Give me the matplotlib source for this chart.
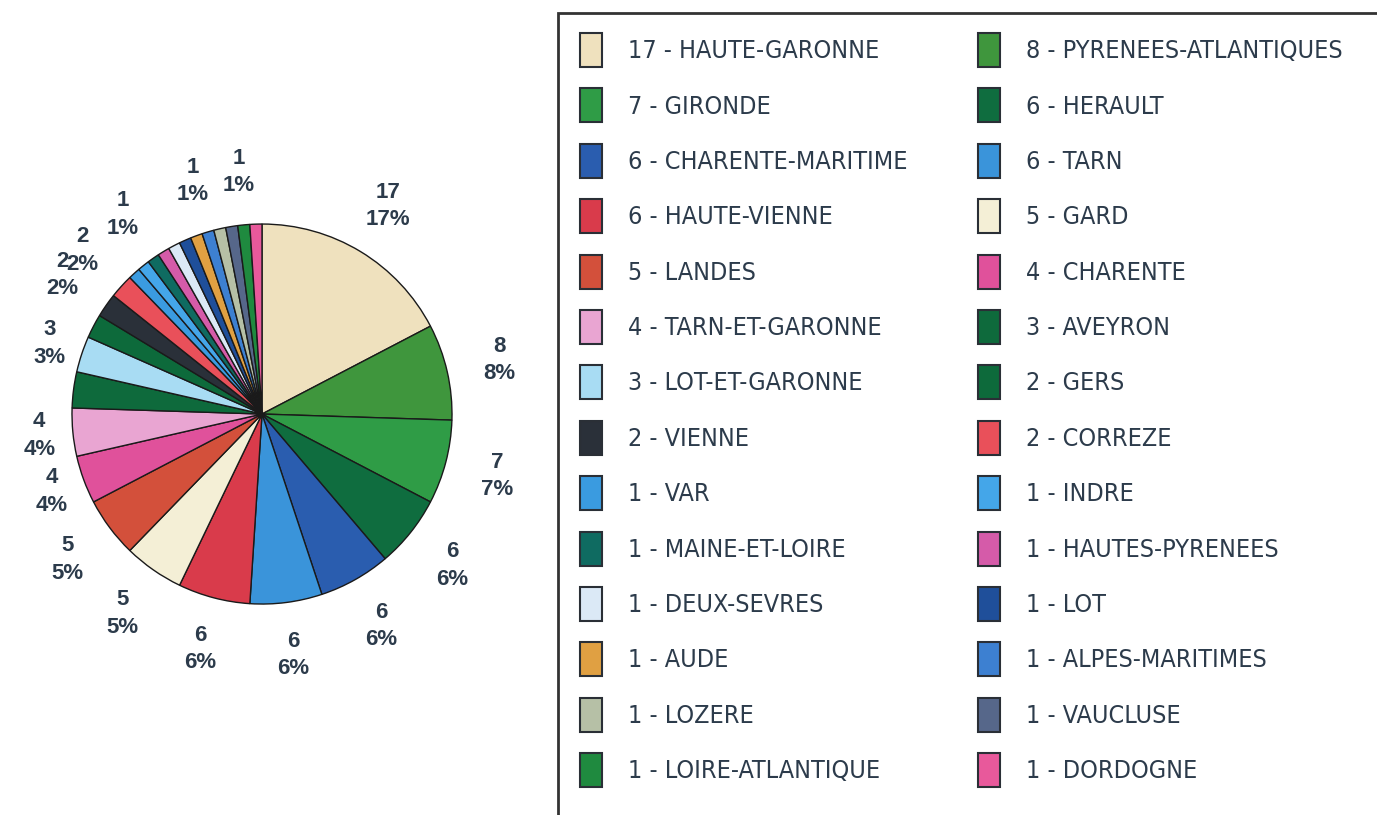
import matplotlib
matplotlib.use("Agg")
import matplotlib.pyplot as plt
from matplotlib.patches import Patch, Rectangle

# Departements, in the order of the pie (clockwise from 12 o'clock)
departements = [
    "HAUTE-GARONNE", "PYRENEES-ATLANTIQUES", "GIRONDE", "HERAULT",
    "CHARENTE-MARITIME", "TARN", "HAUTE-VIENNE", "GARD", "LANDES",
    "CHARENTE", "TARN-ET-GARONNE", "AVEYRON", "LOT-ET-GARONNE", "GERS",
    "VIENNE", "CORREZE", "VAR", "INDRE", "MAINE-ET-LOIRE",
    "HAUTES-PYRENEES", "DEUX-SEVRES", "LOT", "AUDE", "ALPES-MARITIMES",
    "LOZERE", "VAUCLUSE", "LOIRE-ATLANTIQUE", "DORDOGNE",
]
counts = [17, 8, 7, 6, 6, 6, 6, 5, 5, 4, 4, 3, 3, 2, 2, 2,
          1, 1, 1, 1, 1, 1, 1, 1, 1, 1, 1, 1]
colors = [
    "#efe1be", "#3f963d", "#2f9c46", "#0f6d3f", "#2a5daf", "#3a94da",
    "#d93b4b", "#f4efd6", "#d3503b", "#e0519b", "#e9a5d2", "#0e6a3c",
    "#a8dcf3", "#0d6a3b", "#2a3039", "#e9505a", "#3a9be0", "#44a6e9",
    "#0f6b61", "#d55ba9", "#dbe9f6", "#1f4f9a", "#e0a042", "#3d80d1",
    "#b6c0a6", "#56678a", "#1f8a3f", "#e8599b",
]
# slices whose value label is visible on the original chart
shown = [0, 1, 2, 3, 4, 5, 6, 7, 8, 9, 10, 12, 14, 15, 18, 23, 26]

total = sum(counts)
labels = []
for i, c in enumerate(counts):
    if i in shown:
        labels.append(f"{c}\n{round(c / total * 100)}%")
    else:
        labels.append("")

fig = plt.figure(figsize=(13.77, 8.15), dpi=100)

# pie axes: radius 1 -> ~190 px, centre at (262, 414) px from top-left
ax = fig.add_axes([0, 0.1656, 532 / 1377, 532 / 815])
wedges, texts = ax.pie(
    counts, colors=colors, labels=labels, startangle=90, counterclock=False,
    labeldistance=1.28,
    wedgeprops=dict(edgecolor="#1a1a1a", linewidth=1.0),
    textprops=dict(fontsize=16, fontweight="bold", color="#2c3b4b",
                   family=["Liberation Sans", "DejaVu Sans"]),
)
for t in texts:
    t.set_ha("center")
    t.set_linespacing(1.4)
    x, y = t.get_position()
    # labels on the left flank sit a bit closer to the pie
    if x < 0 and abs(y) < 0.6:
        t.set_position((x * 0.92, y * 0.92))
ax.set_xlim(-262 / 190, (532 - 262) / 190)
ax.set_ylim(-1.4, 1.4)
ax.set_aspect("equal")
ax.axis("off")

# legend frame (runs off the right and bottom edges like the original)
fig.patches.append(Rectangle((558 / 1377, -0.05), 0.7, 1 - 13 / 815 + 0.05,
                             transform=fig.transFigure, fill=False,
                             edgecolor="#333333", linewidth=2))

handles = [Patch(facecolor=col, edgecolor="#2a2f36", linewidth=1.5) for col in colors]
names = [f"{c} - {d}" for c, d in zip(counts, departements)]

fs = 18
px = fs * 100 / 72
legend_kw = dict(loc="upper left", frameon=False, borderpad=0, borderaxespad=0,
                 handlelength=22 / px, handleheight=1.715,
                 labelspacing=21.4 / px, handletextpad=26 / px,
                 prop=dict(family="DejaVu Sans", stretch="condensed", size=fs))
leg1 = fig.legend(handles[0::2], names[0::2], bbox_to_anchor=(580 / 1377, 1 - 33 / 815),
                  **legend_kw)
leg2 = fig.legend(handles[1::2], names[1::2], bbox_to_anchor=(978 / 1377, 1 - 33 / 815),
                  **legend_kw)
for leg in (leg1, leg2):
    for t in leg.get_texts():
        t.set_color("#2c3b4b")

plt.savefig("out.png", dpi=100)
